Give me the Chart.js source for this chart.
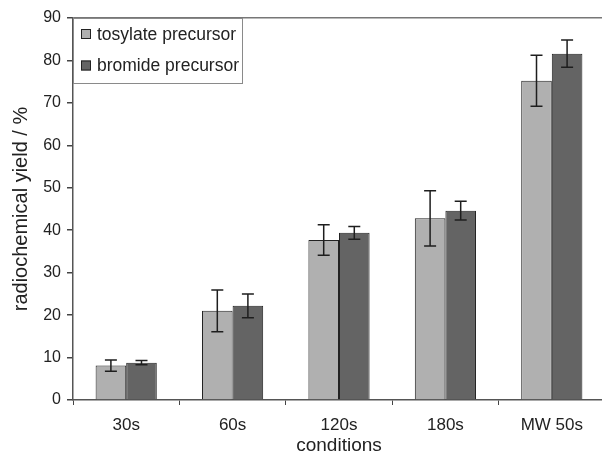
<!DOCTYPE html>
<html>
<head>
<meta charset="utf-8">
<script src="https://cdn.jsdelivr.net/npm/chart.js@4/dist/chart.umd.min.js"></script>
<style>
  html, body { margin: 0; padding: 0; background: #fff; overflow: hidden; }
  #wrap { width: 605px; height: 453px; }
</style>
</head>
<body>
<div id="wrap"><canvas id="c" width="605" height="453"></canvas></div>
<script>
const categories = ['30s', '60s', '120s', '180s', 'MW 50s'];
const seriesNames = ['tosylate precursor', 'bromide precursor'];
const tosylateYield = [8.1, 21.0, 37.7, 42.8, 75.2];
const tosylateError = [1.3, 4.9, 3.6, 6.5, 6.0];
const bromideYield = [8.8, 22.2, 39.4, 44.6, 81.6];
const bromideError = [0.5, 2.8, 1.5, 2.2, 3.2];
const yMin = 0, yMax = 90, yStep = 10;
const xTitle = 'conditions';
const yTitle = 'radiochemical yield / %';

const FONT = '"Liberation Sans", Arial, sans-serif';
const errorsByDataset = [tosylateError, bromideError];

const errorBarPlugin = {
  id: 'errorBars',
  afterDatasetsDraw(chart) {
    const ctx = chart.ctx;
    const y = chart.scales.y;
    ctx.save();
    ctx.strokeStyle = '#1e1e1e';
    ctx.lineWidth = 1.5;
    chart.data.datasets.forEach((ds, di) => {
      const meta = chart.getDatasetMeta(di);
      const errs = errorsByDataset[di];
      meta.data.forEach((bar, i) => {
        const v = ds.data[i], e = errs[i];
        const yt = y.getPixelForValue(v + e);
        const yb = y.getPixelForValue(v - e);
        const x = bar.x;
        const cap = 6;
        ctx.beginPath();
        ctx.moveTo(x, yt); ctx.lineTo(x, yb);
        ctx.moveTo(x - cap, yt); ctx.lineTo(x + cap, yt);
        ctx.moveTo(x - cap, yb); ctx.lineTo(x + cap, yb);
        ctx.stroke();
      });
    });
    ctx.restore();
  }
};

const boxLegendPlugin = {
  id: 'boxLegend',
  afterDraw(chart) {
    const ctx = chart.ctx;
    const a = chart.chartArea;
    const x0 = a.left, y0 = a.top;
    const w = 169, h = 65;
    ctx.save();
    ctx.fillStyle = '#ffffff';
    ctx.fillRect(x0, y0, w, h);
    ctx.strokeStyle = '#8a8a8a';
    ctx.lineWidth = 1;
    ctx.strokeRect(x0 + 0.5, y0 + 0.5, w, h);
    ctx.font = '17.5px ' + FONT;
    ctx.textBaseline = 'middle';
    ctx.textAlign = 'left';
    chart.data.datasets.forEach((ds, i) => {
      const cy = y0 + 16 + i * 31.5;
      ctx.fillStyle = ds.backgroundColor;
      ctx.fillRect(x0 + 8, cy - 5, 10, 10);
      ctx.strokeStyle = '#222';
      ctx.strokeRect(x0 + 8.5, cy - 4.5, 9, 9);
      ctx.fillStyle = '#222';
      ctx.fillText(ds.label, x0 + 24, cy + 1);
    });
    ctx.restore();
  }
};

new Chart(document.getElementById('c'), {
  type: 'bar',
  data: {
    labels: categories,
    datasets: [
      { label: seriesNames[0], data: tosylateYield, backgroundColor: '#b0b0b0', borderColor: '#222', borderWidth: 1,
        categoryPercentage: 0.575, barPercentage: 1.0 },
      { label: seriesNames[1], data: bromideYield, backgroundColor: '#646464', borderColor: '#222', borderWidth: 1,
        categoryPercentage: 0.575, barPercentage: 1.0 }
    ]
  },
  options: {
    responsive: false,
    animation: false,
    devicePixelRatio: 1,
    layout: { padding: { top: 18, right: 0, left: 0, bottom: 0 } },
    plugins: { legend: { display: false }, tooltip: { enabled: false } },
    scales: {
      x: {
        grid: { display: true, color: 'rgba(0,0,0,0)', tickColor: '#444', tickLength: 5, offset: true, drawOnChartArea: false },
        border: { color: '#555', width: 1.5 },
        ticks: { color: '#222', font: { family: FONT, size: 17 }, padding: 10 },
        title: { display: true, text: xTitle, color: '#222', font: { family: FONT, size: 19 }, padding: { top: 0, bottom: -4 } },
        afterFit(scale) { scale.height = 53; }
      },
      y: {
        min: yMin, max: yMax,
        grid: {
          color: (c) => (c.tick && c.tick.value === yMax ? '#777' : 'rgba(0,0,0,0)'),
          lineWidth: 1.5,
          tickColor: '#444', tickLength: 6
        },
        border: { color: '#555', width: 1.5 },
        ticks: { stepSize: yStep, color: '#222', font: { family: FONT, size: 16 }, padding: 6 },
        title: { display: true, text: yTitle, color: '#222', font: { family: FONT, size: 20 }, padding: { top: 9, bottom: 0 } },
        afterFit(scale) { scale.width = 73; }
      }
    }
  },
  plugins: [errorBarPlugin, boxLegendPlugin]
});
</script>
</body>
</html>
